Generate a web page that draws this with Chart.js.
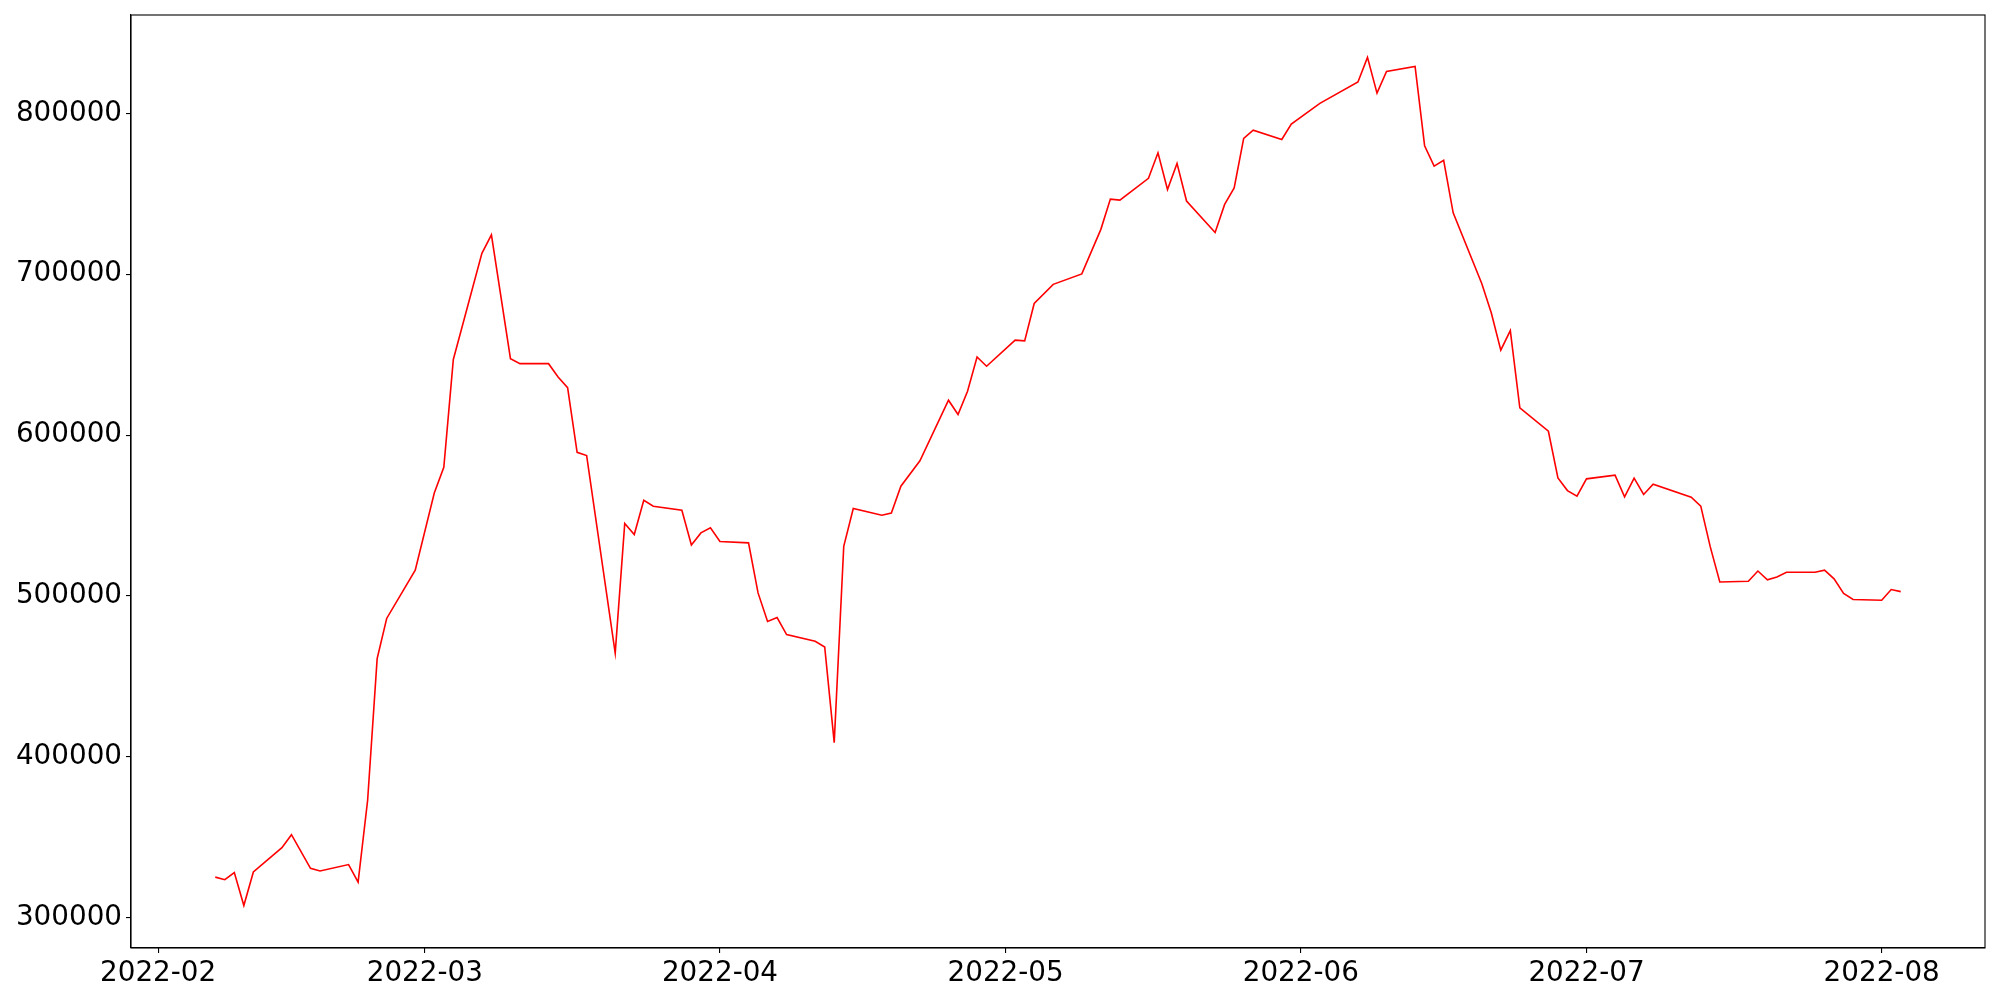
<!DOCTYPE html>
<html>
<head>
<meta charset="utf-8">
<title>Series</title>
<script src="https://cdn.jsdelivr.net/npm/chart.js@4.4.1/dist/chart.umd.min.js"></script>
<style>
  html, body { margin: 0; padding: 0; background: #fff; }
  #wrap { width: 2000px; height: 1000px; }
</style>
</head>
<body>
<div id="wrap"><canvas id="chart" width="2000" height="1000"></canvas></div>
<script>
const dates = [
  "2022-02-07", "2022-02-08", "2022-02-09", "2022-02-10", "2022-02-11",
  "2022-02-14", "2022-02-15", "2022-02-17", "2022-02-18", "2022-02-21",
  "2022-02-22", "2022-02-23", "2022-02-24", "2022-02-25", "2022-02-28",
  "2022-03-02", "2022-03-03", "2022-03-04", "2022-03-07", "2022-03-08",
  "2022-03-10", "2022-03-11", "2022-03-14", "2022-03-15", "2022-03-16",
  "2022-03-17", "2022-03-18", "2022-03-21", "2022-03-22", "2022-03-23",
  "2022-03-24", "2022-03-25", "2022-03-28", "2022-03-29", "2022-03-30",
  "2022-03-31", "2022-04-01", "2022-04-04", "2022-04-05", "2022-04-06",
  "2022-04-07", "2022-04-08", "2022-04-11", "2022-04-12", "2022-04-13",
  "2022-04-14", "2022-04-15", "2022-04-18", "2022-04-19", "2022-04-20",
  "2022-04-22", "2022-04-25", "2022-04-26", "2022-04-27", "2022-04-28",
  "2022-04-29", "2022-05-02", "2022-05-03", "2022-05-04", "2022-05-06",
  "2022-05-09", "2022-05-11", "2022-05-12", "2022-05-13", "2022-05-16",
  "2022-05-17", "2022-05-18", "2022-05-19", "2022-05-20", "2022-05-23",
  "2022-05-24", "2022-05-25", "2022-05-26", "2022-05-27", "2022-05-30",
  "2022-05-31", "2022-06-03", "2022-06-07", "2022-06-08", "2022-06-09",
  "2022-06-10", "2022-06-13", "2022-06-14", "2022-06-15", "2022-06-16",
  "2022-06-17", "2022-06-20", "2022-06-21", "2022-06-22", "2022-06-23",
  "2022-06-24", "2022-06-27", "2022-06-28", "2022-06-29", "2022-06-30",
  "2022-07-01", "2022-07-04", "2022-07-05", "2022-07-06", "2022-07-07",
  "2022-07-08", "2022-07-12", "2022-07-13", "2022-07-14", "2022-07-15",
  "2022-07-18", "2022-07-19", "2022-07-20", "2022-07-21", "2022-07-22",
  "2022-07-25", "2022-07-26", "2022-07-27", "2022-07-28", "2022-07-29",
  "2022-08-01", "2022-08-02", "2022-08-03"
];

const values = [
  325200, 323600, 328000, 307500, 328400,
  343500, 351600, 330700, 329000, 333000,
  322100, 373000, 461000, 486000, 516000,
  564000, 580000, 647000, 713000, 724500,
  647500, 644400, 644400, 636100, 629500,
  589300, 587300, 464500, 545100, 538200,
  559500, 555800, 553300, 531700, 539200,
  542300, 533800, 533000, 501900, 484100,
  486600, 476000, 471800, 468300, 408800,
  530900, 554400, 550200, 551600, 568200,
  584000, 621700, 612800, 627300, 648600,
  642800, 659000, 658600, 681800, 693700,
  700200, 727900, 746700, 746100, 759600,
  775500, 752700, 768900, 745500, 726000,
  743400, 753700, 784500, 789600, 783800,
  793300, 806200, 819500, 834800, 812600,
  826100, 829200, 779900, 767200, 770800,
  738200, 694300, 676000, 652800, 665000,
  616900, 602400, 573400, 565500, 562000,
  572800, 575100, 561600, 573200, 563100,
  569500, 561400, 555800, 530500, 508700,
  509100, 515500, 510000, 511800, 514700,
  514700, 516000, 510600, 501500, 497800,
  497300, 504000, 502700
];

const xTickDates = ["2022-02-01", "2022-03-01", "2022-04-01", "2022-05-01", "2022-06-01", "2022-07-01", "2022-08-01"];
const xTickLabels = ["2022-02", "2022-03", "2022-04", "2022-05", "2022-06", "2022-07", "2022-08"];
const yTicks = [300000, 400000, 500000, 600000, 700000, 800000];

const DAY = 86400000;
const origin = Date.parse(xTickDates[0]);
const toDay = (d) => (Date.parse(d) - origin) / DAY;

const points = dates.map((d, i) => ({ x: toDay(d), y: values[i] }));
const xTickDays = xTickDates.map(toDay);

// matplotlib-like 5% margins
const xs = points.map((p) => p.x);
const xMinData = Math.min(...xs);
const xMaxData = Math.max(...xs);
const xPad = (xMaxData - xMinData) * 0.05;
const yMinData = Math.min(...values);
const yMaxData = Math.max(...values);
const yPad = (yMaxData - yMinData) * 0.05;

const tickFont = { family: "'DejaVu Sans', sans-serif", size: 27.8 };

const frame = {
  id: "frame",
  afterDraw(chart) {
    const { ctx, chartArea } = chart;
    ctx.save();
    ctx.strokeStyle = "#000";
    ctx.lineWidth = 1.1;
    ctx.strokeRect(chartArea.left, chartArea.top, chartArea.right - chartArea.left, chartArea.bottom - chartArea.top);
    ctx.restore();
  },
};

function noScalePadding(scale) {
  scale.paddingTop = 0;
  scale.paddingBottom = 0;
  scale.paddingLeft = 0;
  scale.paddingRight = 0;
}

new Chart(document.getElementById("chart"), {
  type: "line",
  data: {
    datasets: [
      {
        data: points,
        borderColor: "#ff0000",
        borderWidth: 1.6,
        pointRadius: 0,
        tension: 0,
        fill: false,
      },
    ],
  },
  options: {
    responsive: false,
    animation: false,
    devicePixelRatio: 1,
    layout: { padding: { top: 15, right: 15, left: 0, bottom: 0 } },
    plugins: {
      legend: { display: false },
      tooltip: { enabled: false },
    },
    scales: {
      x: {
        type: "linear",
        min: xMinData - xPad,
        max: xMaxData + xPad,
        afterBuildTicks(scale) {
          scale.ticks = xTickDays.map((v) => ({ value: v }));
        },
        afterFit(scale) {
          scale.height = 52;
          noScalePadding(scale);
        },
        ticks: {
          autoSkip: false,
          maxRotation: 0,
          padding: 4,
          color: "#000",
          font: tickFont,
          callback(value) {
            const idx = xTickDays.indexOf(value);
            return idx >= 0 ? xTickLabels[idx] : "";
          },
        },
        grid: { drawOnChartArea: false, drawTicks: true, tickLength: 5, color: "#000", lineWidth: 1.1 },
        border: { display: true, color: "#000", width: 1.1 },
      },
      y: {
        type: "linear",
        min: yMinData - yPad,
        max: yMaxData + yPad,
        afterBuildTicks(scale) {
          scale.ticks = yTicks.map((v) => ({ value: v }));
        },
        afterFit(scale) {
          scale.width = 131;
          noScalePadding(scale);
        },
        ticks: {
          padding: 4,
          color: "#000",
          font: tickFont,
          callback(value) {
            return String(value);
          },
        },
        grid: { drawOnChartArea: false, drawTicks: true, tickLength: 5, color: "#000", lineWidth: 1.1 },
        border: { display: true, color: "#000", width: 1.1 },
      },
    },
  },
  plugins: [frame],
});
</script>
</body>
</html>
